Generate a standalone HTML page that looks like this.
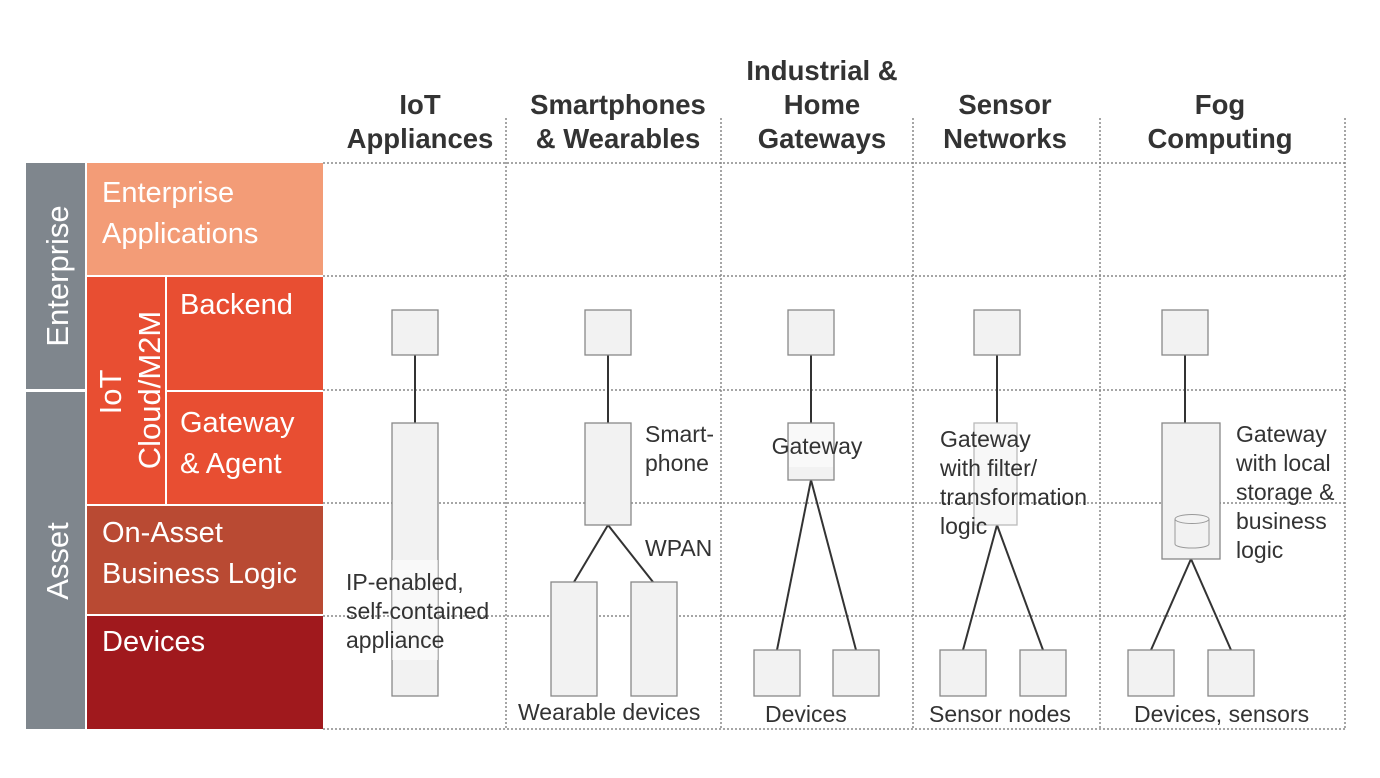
<!DOCTYPE html>
<html><head><meta charset="utf-8"><style>
html,body{margin:0;padding:0;background:#fff;width:1380px;height:778px;overflow:hidden}
svg text{font-family:"Liberation Sans",Arial,sans-serif}
</style></head><body>
<svg width="1380" height="778" viewBox="0 0 1380 778" xmlns="http://www.w3.org/2000/svg">
<g stroke="#888" stroke-width="1.5" stroke-dasharray="2,2" fill="none">
<line x1="323" y1="163" x2="1345" y2="163"/>
<line x1="323" y1="276" x2="1345" y2="276"/>
<line x1="323" y1="390" x2="1345" y2="390"/>
<line x1="323" y1="503" x2="1345" y2="503"/>
<line x1="323" y1="616" x2="1345" y2="616"/>
<line x1="323" y1="729" x2="1345" y2="729"/>
<line x1="506" y1="118" x2="506" y2="729"/>
<line x1="721" y1="118" x2="721" y2="729"/>
<line x1="913" y1="118" x2="913" y2="729"/>
<line x1="1100" y1="118" x2="1100" y2="729"/>
<line x1="1345" y1="118" x2="1345" y2="729"/>
</g>
<rect x="26" y="163" width="59" height="226" fill="#7f868d"/>
<rect x="26" y="392" width="59" height="337" fill="#7f868d"/>
<rect x="87" y="163" width="236" height="112" fill="#f39c77"/>
<rect x="87" y="277" width="78" height="227" fill="#e84e32"/>
<rect x="167" y="277" width="156" height="113" fill="#e84e32"/>
<rect x="167" y="392" width="156" height="112" fill="#e84e32"/>
<rect x="87" y="506" width="236" height="108" fill="#b94a33"/>
<rect x="87" y="616" width="236" height="113" fill="#a0191d"/>
<g fill="#fff" font-size="29">
<text transform="translate(68,276) rotate(-90)" text-anchor="middle" font-size="31">Enterprise</text>
<text transform="translate(68,561) rotate(-90)" text-anchor="middle" font-size="31">Asset</text>
<text transform="translate(121,392) rotate(-90)" text-anchor="middle" font-size="31">IoT</text>
<text transform="translate(160,390) rotate(-90)" text-anchor="middle" font-size="31">Cloud/M2M</text>
<text x="102" y="202">Enterprise</text>
<text x="102" y="243">Applications</text>
<text x="180" y="314">Backend</text>
<text x="180" y="432">Gateway</text>
<text x="180" y="473">&amp; Agent</text>
<text x="102" y="542">On-Asset</text>
<text x="102" y="583">Business Logic</text>
<text x="102" y="651">Devices</text>
</g>
<g fill="#333" font-size="27.5" font-weight="bold" text-anchor="middle">
<text x="420" y="114">IoT</text><text x="420" y="148">Appliances</text>
<text x="618" y="114">Smartphones</text><text x="618" y="148">&amp; Wearables</text>
<text x="822" y="80">Industrial &amp;</text><text x="822" y="114">Home</text><text x="822" y="148">Gateways</text>
<text x="1005" y="114">Sensor</text><text x="1005" y="148">Networks</text>
<text x="1220" y="114">Fog</text><text x="1220" y="148">Computing</text>
</g>
<g stroke="#333" stroke-width="2" fill="none">
<line x1="415" y1="355" x2="415" y2="423"/>
<line x1="608" y1="355" x2="608" y2="423"/>
<line x1="608" y1="525" x2="574" y2="582"/>
<line x1="608" y1="525" x2="653" y2="582"/>
<line x1="811" y1="355" x2="811" y2="423"/>
<line x1="811" y1="480" x2="777" y2="650"/>
<line x1="811" y1="480" x2="856" y2="650"/>
<line x1="997" y1="355" x2="997" y2="423"/>
<line x1="997" y1="525" x2="963" y2="650"/>
<line x1="997" y1="525" x2="1043" y2="650"/>
<line x1="1185" y1="355" x2="1185" y2="423"/>
<line x1="1191" y1="559" x2="1151" y2="650"/>
<line x1="1191" y1="559" x2="1231" y2="650"/>
</g>
<g fill="#f2f2f2" stroke="#888" stroke-width="1.3">
<rect x="392" y="310" width="46" height="45"/>
<rect x="392" y="423" width="46" height="273"/>
<rect x="585" y="310" width="46" height="45"/>
<rect x="585" y="423" width="46" height="102"/>
<rect x="551" y="582" width="46" height="114"/>
<rect x="631" y="582" width="46" height="114"/>
<rect x="788" y="310" width="46" height="45"/>
<rect x="788" y="423" width="46" height="57"/>
<rect x="754" y="650" width="46" height="46"/>
<rect x="833" y="650" width="46" height="46"/>
<rect x="974" y="310" width="46" height="45"/>
<rect x="974" y="423" width="43" height="102" fill="#f7f7f7" stroke="#bbb"/>
<rect x="940" y="650" width="46" height="46"/>
<rect x="1020" y="650" width="46" height="46"/>
<rect x="1162" y="310" width="46" height="45"/>
<rect x="1162" y="423" width="58" height="136"/>
<rect x="1128" y="650" width="46" height="46"/>
<rect x="1208" y="650" width="46" height="46"/>
</g>
<rect x="392" y="560" width="46" height="100" fill="#fff" opacity="0.55"/>
<rect x="789" y="424" width="44" height="43" fill="#fff" opacity="0.55"/>
<g fill="#f2f2f2" stroke="#999" stroke-width="1">
<path d="M1175,519 L1175,544 A17,4 0 0 0 1209,544 L1209,519"/>
<ellipse cx="1192" cy="519" rx="17" ry="4.5"/>
</g>
<g fill="#333" font-size="23">
<text x="346" y="590">IP-enabled,</text>
<text x="346" y="619">self-contained</text>
<text x="346" y="648">appliance</text>
<text x="645" y="442">Smart-</text>
<text x="645" y="471">phone</text>
<text x="645" y="556">WPAN</text>
<text x="518" y="720">Wearable devices</text>
<text x="817" y="454" text-anchor="middle">Gateway</text>
<text x="765" y="722">Devices</text>
<text x="940" y="447">Gateway</text>
<text x="940" y="476">with filter/</text>
<text x="940" y="505">transformation</text>
<text x="940" y="534">logic</text>
<text x="929" y="722">Sensor nodes</text>
<text x="1236" y="442">Gateway</text>
<text x="1236" y="471">with local</text>
<text x="1236" y="500">storage &amp;</text>
<text x="1236" y="529">business</text>
<text x="1236" y="558">logic</text>
<text x="1134" y="722">Devices, sensors</text>
</g>
</svg>
</body></html>
